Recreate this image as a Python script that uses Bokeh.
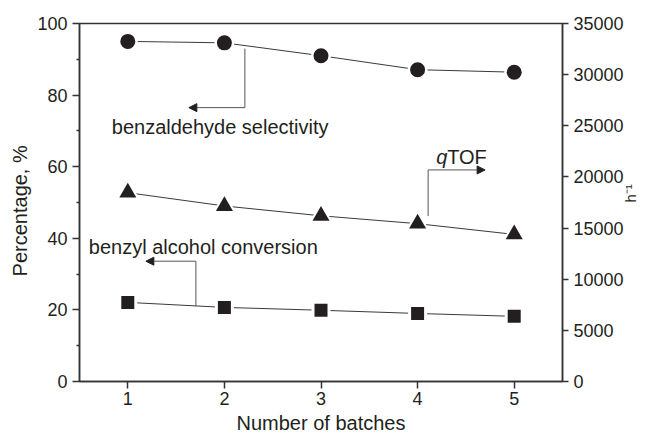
import math

from bokeh.core.properties import value
from bokeh.embed import file_html
from bokeh.models import Arrow, FixedTicker, LinearAxis, NormalHead, Range1d
from bokeh.plotting import figure
from bokeh.resources import INLINE

# Recycling runs of the catalyst
batches = [1, 2, 3, 4, 5]
# Benzaldehyde selectivity, %
selectivity = [95.0, 94.6, 91.0, 87.1, 86.4]
# Benzyl alcohol conversion, %
conversion = [22.1, 20.7, 19.9, 19.0, 18.2]
# qTOF, h^-1 (right axis)
qtof = [18460, 17160, 16200, 15430, 14380]

x_ticks = [1, 2, 3, 4, 5]
left_ticks = [0, 20, 40, 60, 80, 100]
left_minor = [10, 30, 50, 70, 90]
right_ticks = [0, 5000, 10000, 15000, 20000, 25000, 30000, 35000]

FONT = value("Liberation Sans")
INK = "#231f20"
AXIS = "#333333"
LINE = "#3a3a3a"
NBSP = "\u00a0"

p = figure(
    width=650, height=436,
    x_range=Range1d(0.5, 5.5), y_range=Range1d(0, 100),
    output_backend="svg", toolbar_location=None,
    min_border_left=79, min_border_right=88,
    min_border_top=23, min_border_bottom=55,
)
p.extra_y_ranges = {"tof": Range1d(0, 35000)}
p.grid.visible = False
p.outline_line_color = AXIS
p.outline_line_width = 1.5
p.background_fill_color = "white"
p.border_fill_color = "white"

right = LinearAxis(y_range_name="tof")
p.add_layout(right, "right")


def style_axis(ax):
    ax.axis_line_color = AXIS
    ax.axis_line_width = 1.5
    ax.major_tick_line_color = AXIS
    ax.major_tick_line_width = 1.5
    ax.minor_tick_line_color = AXIS
    ax.minor_tick_line_width = 1.5
    ax.major_tick_in = 0
    ax.major_tick_out = 7
    ax.minor_tick_in = 0
    ax.minor_tick_out = 0
    ax.major_label_text_font = "Liberation Sans"
    ax.major_label_text_font_size = "18px"
    ax.major_label_text_color = INK
    ax.axis_label_text_font = "Liberation Sans"
    ax.axis_label_text_font_size = "20px"
    ax.axis_label_text_font_style = "normal"
    ax.axis_label_text_color = INK


xa = p.xaxis[0]
style_axis(xa)
xa.ticker = FixedTicker(ticks=x_ticks)
xa.axis_label = "Number of batches"
xa.major_label_standoff = 3
xa.axis_label_standoff = 4

ya = p.yaxis[0]
style_axis(ya)
ya.ticker = FixedTicker(ticks=left_ticks, minor_ticks=left_minor)
ya.minor_tick_out = 3
ya.axis_label = "Percentage, %" + NBSP * 3
ya.major_label_standoff = 5
ya.axis_label_standoff = 3

style_axis(right)
right.ticker = FixedTicker(ticks=right_ticks)
right.major_tick_out = 6
right.major_label_standoff = 5

# outer right panel carrying only the unit h^-1, read bottom to top
unit_axis = LinearAxis(y_range_name="tof")
style_axis(unit_axis)
unit_axis.ticker = FixedTicker(ticks=[])
unit_axis.axis_line_color = None
unit_axis.major_tick_out = 0
unit_axis.major_label_text_font_size = "0px"
unit_axis.major_label_standoff = 0
unit_axis.axis_label = "h\u207b\u00b9"
unit_axis.axis_label_text_font_size = "15px"
unit_axis.axis_label_orientation = math.pi / 2
unit_axis.axis_label_standoff = 4
p.add_layout(unit_axis, "right")

# connecting lines
p.line(batches, selectivity, line_color=LINE, line_width=1)
p.line(batches, conversion, line_color=LINE, line_width=1)
p.line(batches, qtof, line_color=LINE, line_width=1, y_range_name="tof")

# white halos leave a small gap between each line and its markers
p.scatter(batches, selectivity, marker="circle", size=20, fill_color="white", line_color=None)
p.scatter(batches, conversion, marker="square", size=19, fill_color="white", line_color=None)
p.scatter(batches, qtof, marker="triangle", size=24, fill_color="white", line_color=None,
          y_range_name="tof")

p.scatter(batches, selectivity, marker="circle", size=15, fill_color=INK, line_color=None)
p.scatter(batches, conversion, marker="square", size=13, fill_color=INK, line_color=None)
p.scatter(batches, qtof, marker="triangle", size=17, fill_color=INK, line_color=None,
          y_range_name="tof")

# elbow arrows pointing each series to its axis
ARROW = "#555555"
p.segment(x0=[2.212, 1.705, 4.109], y0=[93.0, 21.0, 46.2],
          x1=[2.212, 1.705, 4.109], y1=[76.5, 33.6, 59.1],
          line_color=ARROW, line_width=1)
for xs, ys, xe in [(2.212, 76.5, 1.632), (1.705, 33.6, 1.187), (4.109, 59.1, 4.699)]:
    p.add_layout(Arrow(
        end=NormalHead(size=8, fill_color=INK, line_color=INK, line_width=1),
        x_start=xs, y_start=ys, x_end=xe, y_end=ys,
        line_color=ARROW, line_width=1,
    ))

p.text(x=[0.834, 0.596, 4.306], y=[71.2, 37.6, 62.8],
       text=["benzaldehyde selectivity", "benzyl alcohol conversion", "TOF"],
       text_font=FONT, text_font_size="20px", text_color=INK,
       text_align="left", text_baseline="alphabetic")
p.text(x=[4.192], y=[62.8], text=["q"], text_font=FONT, text_font_size="20px",
       text_font_style="italic", text_color=INK,
       text_align="left", text_baseline="alphabetic")

open("out.html", "w").write(file_html(p, INLINE))
